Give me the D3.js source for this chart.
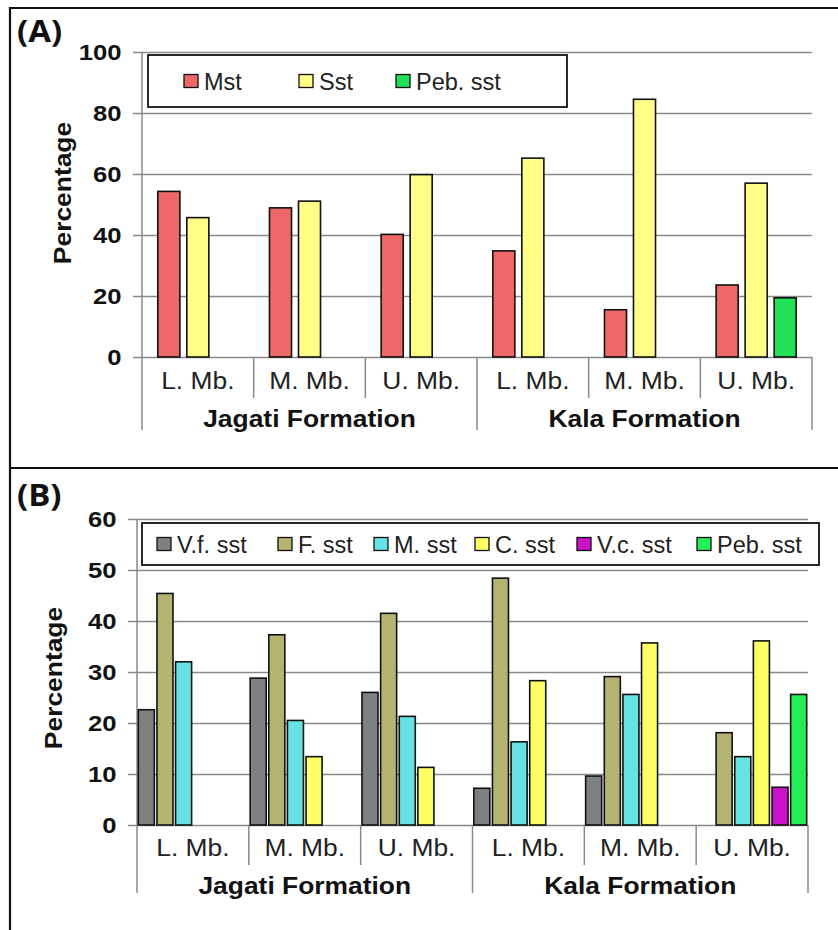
<!DOCTYPE html>
<html><head><meta charset="utf-8">
<script src="https://cdn.jsdelivr.net/npm/d3@7"></script>
<style>
html,body{margin:0;padding:0;background:#fff;}
svg{display:block;font-family:"Liberation Sans",Arial,sans-serif;}
</style></head>
<body><svg id="c" width="838" height="930"></svg>
<script>
// ---- data ----
const categories = ["L. Mb.","M. Mb.","U. Mb.","L. Mb.","M. Mb.","U. Mb."];
const groups = ["Jagati Formation","Kala Formation"];

const seriesA = ["Mst","Sst","Peb. sst"];
const colorsA = ["#EE6868","#FFFF88","#22E055"];
const mstA = [54.3,48.9,40.2,34.8,15.5,23.6];
const sstA = [45.7,51.1,59.8,65.2,84.5,57.0];
const pebA = [0,0,0,0,0,19.4];
const ticksA = [0,20,40,60,80,100];

const seriesB = ["V.f. sst","F. sst","M. sst","C. sst","V.c. sst","Peb. sst"];
const colorsB = ["#808080","#B5B372","#66E2E2","#FFFF66","#CC10CC","#22EE55"];
const vfB  = [22.6,28.8,26.0,7.2,9.6,0];
const fB   = [45.4,37.3,41.5,48.4,29.1,18.1];
const mB   = [32.0,20.5,21.3,16.3,25.6,13.4];
const cB   = [0,13.4,11.3,28.3,35.7,36.1];
const vcB  = [0,0,0,0,0,7.4];
const pebB = [0,0,0,0,0,25.6];
const ticksB = [0,10,20,30,40,50,60];

const SX = 1.1; // horizontal stretch of text seen in the reference
const svg = d3.select("#c");

// frame
svg.append("path")
  .attr("d","M10,930 L10,8 L838,8 M10,468 L838,468")
  .attr("fill","none").attr("stroke","#111").attr("stroke-width",2.2);

function stext(parent,x,y,str,size,bold,anchor,fill){
  return parent.append("text")
    .attr("transform",`translate(${x},${y}) scale(${SX},1)`)
    .attr("text-anchor",anchor||"middle").attr("dominant-baseline","central")
    .attr("font-size",size).attr("font-weight",bold?"bold":"normal")
    .attr("fill",fill||"#111").text(str);
}

function panel(cfg){
  const g = svg.append("g");
  const x = d3.scaleBand().domain(d3.range(categories.length)).range([cfg.x0,cfg.x1]);
  const y = d3.scaleLinear().domain([0,cfg.max]).range([cfg.yZero,cfg.yTop]);
  const w = cfg.x1 - cfg.x0;

  // y axis with gridlines
  const ax = g.append("g").attr("transform",`translate(${cfg.x0-9},0)`)
    .call(d3.axisLeft(y).tickValues(cfg.ticks).tickSize(-(w+9)).tickSizeOuter(0).tickPadding(10));
  ax.select(".domain").remove();
  ax.selectAll(".tick line").attr("stroke","#8a8a8a").attr("stroke-width",1.3);
  ax.selectAll(".tick text").attr("font-size",22.5).attr("font-weight","bold")
    .attr("fill","#111").attr("font-family","'Liberation Sans',Arial,sans-serif")
    .attr("transform",`scale(${SX+0.04},1)`);

  // vertical axis line
  g.append("line").attr("x1",cfg.x0).attr("x2",cfg.x0)
    .attr("y1",cfg.yTop).attr("y2",cfg.groupBottom)
    .attr("stroke","#8a8a8a").attr("stroke-width",1.5);

  // category separators + labels
  categories.forEach((c,i)=>{
    const xe = x(i)+x.bandwidth();
    const outer = (i===2 || i===5);
    g.append("line").attr("x1",xe).attr("x2",xe)
      .attr("y1",cfg.yZero).attr("y2",outer?cfg.groupBottom:cfg.catBottom)
      .attr("stroke","#8a8a8a").attr("stroke-width",1.5);
    stext(g, x(i)+x.bandwidth()/2, cfg.catY, c, 24, false, "middle", "#222");
  });
  groups.forEach((gr,j)=>{
    const cx = (x(j*3) + x(j*3+2)+x.bandwidth())/2;
    stext(g, cx, cfg.groupY, gr, 24, true, "middle", "#111");
  });

  // bars
  const xs = d3.scaleBand().domain(d3.range(cfg.series.length))
    .range(cfg.innerRange).paddingInner(cfg.pi).paddingOuter(cfg.po);
  cfg.values.forEach((arr,si)=>{
    arr.forEach((v,ci)=>{
      if(v<=0) return;
      g.append("rect")
        .attr("x",x(ci)+x.bandwidth()/2+xs(si))
        .attr("y",y(v))
        .attr("width",xs.bandwidth())
        .attr("height",y(0)-y(v))
        .attr("fill",cfg.colors[si]).attr("stroke","#111").attr("stroke-width",1.6);
    });
  });

  // legend
  const L = cfg.legend;
  g.append("rect").attr("x",L.x).attr("y",L.y).attr("width",L.w).attr("height",L.h)
    .attr("fill","#fff").attr("stroke","#111").attr("stroke-width",1.8);
  cfg.series.forEach((s,i)=>{
    const sx = L.items[i];
    const cy = L.y + L.h/2;
    g.append("rect").attr("x",sx).attr("y",cy-6.5).attr("width",14).attr("height",13)
      .attr("fill",cfg.colors[i]).attr("stroke","#111").attr("stroke-width",1.3);
    g.append("text").attr("x",sx+20).attr("y",cy+1).attr("dominant-baseline","central")
      .attr("font-size",23.5).attr("fill","#222").text(s);
  });

  // y title
  g.append("text").attr("transform",`translate(${cfg.titleX},${cfg.titleY}) rotate(-90) scale(${SX},1)`)
    .attr("text-anchor","middle").attr("dominant-baseline","central")
    .attr("font-size",24).attr("font-weight","bold").attr("fill","#111").text("Percentage");

  // panel letter
  svg.append("text").attr("transform",`translate(${cfg.letterX},${cfg.letterY}) scale(${SX},1)`)
    .attr("font-size",30).attr("font-weight","bold").attr("fill","#111")
    .attr("font-family","'Open Sans',sans-serif").text(cfg.letter);
}

panel({
  x0:142, x1:812, yTop:52, yZero:357, max:100, ticks:ticksA,
  catBottom:398, groupBottom:430, catY:380, groupY:418,
  series:seriesA, colors:colorsA, values:[mstA,sstA,pebA],
  innerRange:[-43.5,43.5], pi:0.24, po:0.12,
  legend:{x:148,y:55,w:419,h:52,items:[184,299,396]},
  titleX:62, titleY:193, letter:"(A)", letterX:17, letterY:42
});

panel({
  x0:137, x1:808, yTop:519, yZero:825, max:60, ticks:ticksB,
  catBottom:865, groupBottom:893, catY:847, groupY:885,
  series:seriesB, colors:colorsB, values:[vfB,fB,mB,cB,vcB,pebB],
  innerRange:[-55.9,55.9], pi:0.14, po:0.07,
  legend:{x:142,y:523,w:677,h:42,items:[157,278,374,475,577,697]},
  titleX:53, titleY:678, letter:"(B)", letterX:17, letterY:506
});
</script>
</body></html>
